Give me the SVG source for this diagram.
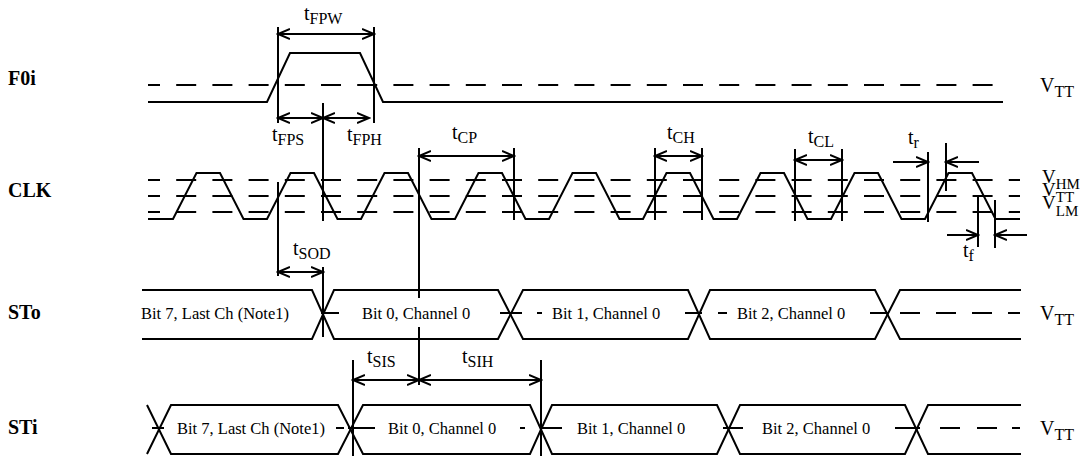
<svg xmlns="http://www.w3.org/2000/svg" width="1088" height="456" viewBox="0 0 1088 456">
<style>
.w{fill:none;stroke:#000;stroke-width:2}
.d{fill:none;stroke:#000;stroke-width:2;stroke-dasharray:20 16.2;stroke-dashoffset:8}
.s{stroke:#000;stroke-width:2}
.a{stroke:#000;stroke-width:2;fill:none}
.lbl{font-family:"Liberation Serif","Times New Roman",serif;font-weight:bold;font-size:20px;fill:#000}
.t{font-family:"Liberation Serif","Times New Roman",serif;font-size:20px;fill:#000}
.v{font-family:"Liberation Serif","Times New Roman",serif;font-size:19px;fill:#000}
.sub{font-size:16px}
.vs{font-size:15px}
.b{font-family:"Liberation Serif","Times New Roman",serif;font-size:16.5px;fill:#000}
</style>
<defs>
<marker id="ah" markerUnits="userSpaceOnUse" markerWidth="14" markerHeight="12" refX="12" refY="6" orient="auto-start-reverse" viewBox="0 0 14 12">
<path d="M0,1 L12,6 L0,11" fill="none" stroke="#000" stroke-width="2"/>
</marker>
</defs>
<rect width="1088" height="456" fill="#fff"/>

<g id="F0i">
<text class="lbl" x="8" y="85">F0i</text>
<line class="d" x1="148" y1="85" x2="1003" y2="85"/>
<polyline class="w" points="148,102 267,102 290,53 360,53 383,102 1003,102"/>
<text class="t" x="1040" y="92">V<tspan class="sub" dy="5">TT</tspan></text>
</g>

<g id="CLK">
<text class="lbl" x="8" y="197">CLK</text>
<line class="d" x1="148" y1="180" x2="1020" y2="180"/>
<line class="d" x1="148" y1="196" x2="1020" y2="196"/>
<line class="d" x1="148" y1="212" x2="1020" y2="212"/>
<polyline class="w" points="148,219 173,219 196.5,173 220,173 243.5,219 267,219 290.5,173 314,173 337.5,219 361,219 384.5,173 408,173 431.5,219 455,219 478.5,173 502,173 525.5,219 549,219 572.5,173 596,173 619.5,219 643,219 666.5,173 690,173 713.5,219 737,219 760.5,173 784,173 807.5,219 831,219 854.5,173 878,173 901.5,219 925,219 948.5,173 972,173 995.5,219 1020,219"/>
<text class="v" x="1042" y="183">V<tspan class="vs" dy="6">HM</tspan></text>
<text class="v" x="1042" y="196">V<tspan class="vs" dy="6">TT</tspan></text>
<text class="v" x="1042" y="209">V<tspan class="vs" dy="7">LM</tspan></text>
</g>

<g id="STo">
<text class="lbl" x="8" y="319">STo</text>
<path class="w" d="M142,290 H312 L334,339 H498 L523,290 H688 L710,339 H875 L900,290 H1021"/>
<path class="w" d="M142,339 H312 L334,290 H498 L523,339 H688 L710,290 H875 L900,339 H1021"/>
<path class="w" d="M321,313 H339 M500,313 H522 M537,313 H542 M685,313 H702 M718,313 H727 M870,313 H888 M900,313 H920 M936,313 H956 M972,313 H992 M1008,313 H1020"/>
<text class="b" x="141" y="319">Bit 7, Last Ch (Note1)</text>
<text class="b" x="362" y="319">Bit 0, Channel 0</text>
<text class="b" x="552" y="319">Bit 1, Channel 0</text>
<text class="b" x="737" y="319">Bit 2, Channel 0</text>
<text class="t" x="1040" y="320">V<tspan class="sub" dy="5">TT</tspan></text>
</g>

<g id="STi">
<text class="lbl" x="8" y="434">STi</text>
<path class="w" d="M147,405 L171,454 H338 L363,405 H530 L552,454 H717 L740,405 H905 L928,454 H1021"/>
<path class="w" d="M147,454 L171,405 H338 L363,454 H530 L552,405 H717 L740,454 H905 L928,405 H1021"/>
<path class="w" d="M152,428 H164 M336,428 H344 M348,428 H375 M520,428 H525 M541,428 H562 M723,428 H743 M895,428 H920 M940,428 H960 M977,428 H997 M1012,428 H1020"/>
<text class="b" x="177" y="434">Bit 7, Last Ch (Note1)</text>
<text class="b" x="388" y="434">Bit 0, Channel 0</text>
<text class="b" x="577" y="434">Bit 1, Channel 0</text>
<text class="b" x="762" y="434">Bit 2, Channel 0</text>
<text class="t" x="1040" y="435">V<tspan class="sub" dy="5">TT</tspan></text>
</g>

<g id="connectors">
<path class="s" d="M278,27 V123 M374,27 V123 M323,103 V221 M278,182 V276 M323,267 V337 M419,148 V298 M419,327 V385 M514,148 V220 M655,148 V220 M702,148 V220 M795,149 V221 M842,149 V221 M928,152 V222 M946,143 V191 M978,197 V247 M995,200 V248 M353,360 V456 M541,360 V456"/>
<line class="a" x1="278" y1="34" x2="374" y2="34" marker-start="url(#ah)" marker-end="url(#ah)"/>
<line class="a" x1="278" y1="118" x2="323" y2="118" marker-start="url(#ah)" marker-end="url(#ah)"/>
<line class="a" x1="323" y1="118" x2="369" y2="118" marker-start="url(#ah)" marker-end="url(#ah)"/>
<line class="a" x1="278" y1="272" x2="323" y2="272" marker-start="url(#ah)" marker-end="url(#ah)"/>
<line class="a" x1="419" y1="156" x2="514" y2="156" marker-start="url(#ah)" marker-end="url(#ah)"/>
<line class="a" x1="655" y1="156" x2="702" y2="156" marker-start="url(#ah)" marker-end="url(#ah)"/>
<line class="a" x1="795" y1="160" x2="842" y2="160" marker-start="url(#ah)" marker-end="url(#ah)"/>
<line class="a" x1="893" y1="162" x2="928" y2="162" marker-end="url(#ah)"/>
<line class="a" x1="979" y1="162" x2="946" y2="162" marker-end="url(#ah)"/>
<line class="a" x1="947" y1="235" x2="978" y2="235" marker-end="url(#ah)"/>
<line class="a" x1="1027" y1="235" x2="995" y2="235" marker-end="url(#ah)"/>
<line class="a" x1="353" y1="380" x2="419" y2="380" marker-start="url(#ah)" marker-end="url(#ah)"/>
<line class="a" x1="419" y1="380" x2="541" y2="380" marker-start="url(#ah)" marker-end="url(#ah)"/>
<text class="t" x="304" y="20">t<tspan class="sub" dy="4">FPW</tspan></text>
<text class="t" x="272" y="141">t<tspan class="sub" dy="4">FPS</tspan></text>
<text class="t" x="347" y="141">t<tspan class="sub" dy="4">FPH</tspan></text>
<text class="t" x="293" y="255">t<tspan class="sub" dy="4">SOD</tspan></text>
<text class="t" x="452" y="139">t<tspan class="sub" dy="4">CP</tspan></text>
<text class="t" x="667" y="139">t<tspan class="sub" dy="4">CH</tspan></text>
<text class="t" x="808" y="143">t<tspan class="sub" dy="4">CL</tspan></text>
<text class="t" x="908" y="144">t<tspan class="sub" dy="4">r</tspan></text>
<text class="t" x="963" y="257">t<tspan class="sub" dy="4">f</tspan></text>
<text class="t" x="367" y="363">t<tspan class="sub" dy="4">SIS</tspan></text>
<text class="t" x="462" y="363">t<tspan class="sub" dy="4">SIH</tspan></text>
</g>
</svg>
